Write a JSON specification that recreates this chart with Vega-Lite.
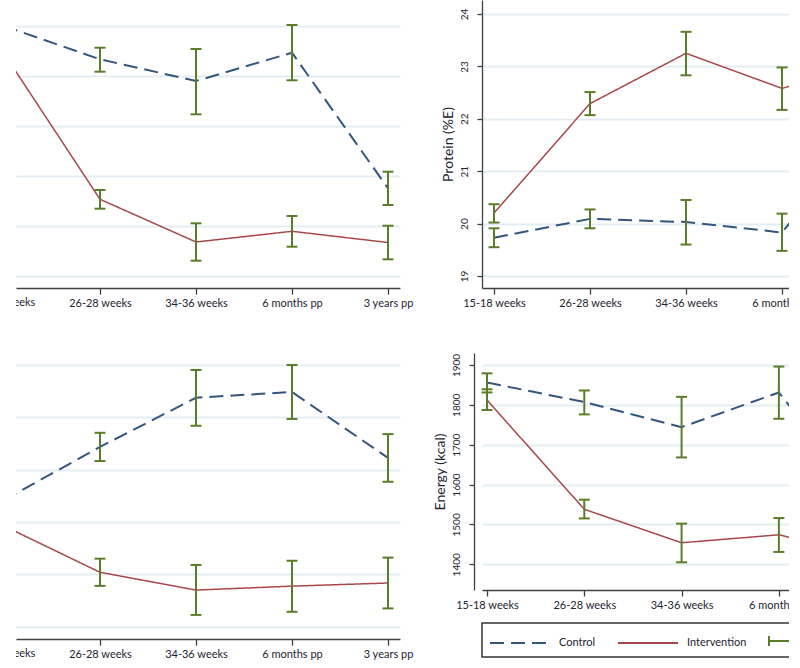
{
  "$schema": "https://vega.github.io/schema/vega-lite/v6.json",
  "autosize": {"type": "none"},
  "padding": {"left": 16, "top": 0, "right": 773, "bottom": 668},
  "background": "white",
  "bounds": "flush",
  "columns": 2,
  "spacing": {"row": 41, "column": 82},
  "datasets": {
    "tl": [
      {"idx": 1, "group": "Control", "mean": 50.0, "lo": 49.0, "hi": 51.0},
      {"idx": 2, "group": "Control", "mean": 46.67, "lo": 45.43, "hi": 47.83},
      {"idx": 3, "group": "Control", "mean": 44.5, "lo": 41.17, "hi": 47.7},
      {"idx": 4, "group": "Control", "mean": 47.33, "lo": 44.57, "hi": 50.1},
      {"idx": 5, "group": "Control", "mean": 33.77, "lo": 32.1, "hi": 35.43},
      {"idx": 1, "group": "Intervention", "mean": 47.25, "lo": 46.2, "hi": 48.3},
      {"idx": 2, "group": "Intervention", "mean": 32.67, "lo": 31.73, "hi": 33.6},
      {"idx": 3, "group": "Intervention", "mean": 28.4, "lo": 26.53, "hi": 30.27},
      {"idx": 4, "group": "Intervention", "mean": 29.47, "lo": 27.93, "hi": 31.0},
      {"idx": 5, "group": "Intervention", "mean": 28.35, "lo": 26.67, "hi": 30.03}
    ],
    "tr": [
      {"idx": 1, "group": "Control", "mean": 19.73, "lo": 19.55, "hi": 19.91},
      {"idx": 2, "group": "Control", "mean": 20.09, "lo": 19.91, "hi": 20.27},
      {"idx": 3, "group": "Control", "mean": 20.03, "lo": 19.6, "hi": 20.45},
      {"idx": 4, "group": "Control", "mean": 19.83, "lo": 19.48, "hi": 20.19},
      {"idx": 5, "group": "Control", "mean": 22.1, "lo": 21.6, "hi": 22.6},
      {"idx": 1, "group": "Intervention", "mean": 20.2, "lo": 20.02, "hi": 20.37},
      {"idx": 2, "group": "Intervention", "mean": 22.29, "lo": 22.07, "hi": 22.51},
      {"idx": 3, "group": "Intervention", "mean": 23.25, "lo": 22.83, "hi": 23.66},
      {"idx": 4, "group": "Intervention", "mean": 22.58, "lo": 22.17, "hi": 22.98},
      {"idx": 5, "group": "Intervention", "mean": 23.1, "lo": 22.6, "hi": 23.6}
    ],
    "bl": [
      {"idx": 1, "group": "Control", "mean": 34.84, "lo": 34.0, "hi": 35.7},
      {"idx": 2, "group": "Control", "mean": 36.87, "lo": 36.33, "hi": 37.41},
      {"idx": 3, "group": "Control", "mean": 38.75, "lo": 37.68, "hi": 39.81},
      {"idx": 4, "group": "Control", "mean": 38.97, "lo": 37.94, "hi": 40.0},
      {"idx": 5, "group": "Control", "mean": 36.45, "lo": 35.54, "hi": 37.36},
      {"idx": 1, "group": "Intervention", "mean": 33.85, "lo": 33.3, "hi": 34.4},
      {"idx": 2, "group": "Intervention", "mean": 32.08, "lo": 31.56, "hi": 32.6},
      {"idx": 3, "group": "Intervention", "mean": 31.4, "lo": 30.45, "hi": 32.36},
      {"idx": 4, "group": "Intervention", "mean": 31.55, "lo": 30.57, "hi": 32.52},
      {"idx": 5, "group": "Intervention", "mean": 31.67, "lo": 30.7, "hi": 32.64}
    ],
    "br": [
      {"idx": 1, "group": "Control", "mean": 1856, "lo": 1831, "hi": 1879},
      {"idx": 2, "group": "Control", "mean": 1807, "lo": 1776, "hi": 1836},
      {"idx": 3, "group": "Control", "mean": 1744, "lo": 1668, "hi": 1820},
      {"idx": 4, "group": "Control", "mean": 1831, "lo": 1765, "hi": 1896},
      {"idx": 5, "group": "Control", "mean": 1521, "lo": 1480, "hi": 1560},
      {"idx": 1, "group": "Intervention", "mean": 1812, "lo": 1787, "hi": 1839},
      {"idx": 2, "group": "Intervention", "mean": 1538, "lo": 1515, "hi": 1562},
      {"idx": 3, "group": "Intervention", "mean": 1454, "lo": 1405, "hi": 1502},
      {"idx": 4, "group": "Intervention", "mean": 1474, "lo": 1431, "hi": 1516},
      {"idx": 5, "group": "Intervention", "mean": 1411, "lo": 1370, "hi": 1455}
    ],
    "lab": [{"idx": 1, "label": "15-18 weeks"}]
  },
  "concat": [
    {
      "width": 384, "height": 312,
      "data": {"name": "tl"},
      "layer": [
        {
          "mark": {"type": "line", "clip": true},
          "encoding": {
            "x": {"field": "idx", "type": "quantitative", "scale": {"domain": [1.125, 5.125], "nice": false, "zero": false},
                  "axis": {"values": [1, 2, 3, 4, 5], "labelExpr": "['','15-18 weeks','26-28 weeks','34-36 weeks','6 months pp','3 years pp'][datum.value]", "grid": false, "title": null, "labelFlush": false, "labelOverlap": false, "labelBound": false, "offset": -24}},
            "y": {"field": "mean", "type": "quantitative", "scale": {"domain": [21.4, 52.6], "nice": false, "zero": false},
                  "axis": {"values": [25, 30, 35, 40, 45, 50], "labels": false, "ticks": false, "domain": false, "title": null, "grid": true}},
            "color": {"field": "group", "type": "nominal",
                      "scale": {"domain": ["Control", "Intervention", "95% CI"], "range": ["#33567f", "#a8474b", "#5a7d2a"]},
                      "legend": {"title": null, "orient": "none", "legendX": 466, "legendY": 623, "direction": "horizontal", "strokeColor": "#333333", "padding": 7, "symbolSize": 400, "symbolType": "M-1,0H5", "symbolStrokeWidth": 2, "labelOffset": 48, "columnPadding": 18, "labelFontSize": 11, "labelFont": "Lato", "labelColor": "#1c2530",
                                 "encode": {"symbols": {"update": {"shape": {"signal": "datum.value === '95% CI' ? 'M-1,-0.5V0.5M-1,0H5M5,-0.5V0.5' : 'M-1,0H5'"}, "strokeDash": {"signal": "datum.value === 'Control' ? [14,7] : [1,0]"}, "fill": {"value": "transparent"}, "strokeWidth": {"value": 2}}},
                                            "legend": {"update": {"strokeWidth": {"value": 1.5}}}}}},
            "strokeDash": {"field": "group", "type": "nominal", "scale": {"domain": ["Control", "Intervention"], "range": [[14, 7], [1, 0]]}, "legend": null},
            "strokeWidth": {"field": "group", "type": "ordinal", "scale": {"domain": ["Control", "Intervention"], "range": [2, 1.5]}, "legend": null}
          }
        },
        {
          "mark": {"type": "rule", "clip": true, "strokeWidth": 2},
          "encoding": {
            "x": {"field": "idx", "type": "quantitative", "title": null},
            "y": {"field": "lo", "type": "quantitative", "title": null},
            "y2": {"field": "hi"},
            "color": {"datum": "95% CI", "type": "nominal"}
          }
        },
        {
          "mark": {"type": "tick", "orient": "horizontal", "clip": true, "size": 11, "thickness": 2, "opacity": 1},
          "encoding": {
            "x": {"field": "idx", "type": "quantitative", "title": null},
            "y": {"field": "lo", "type": "quantitative", "title": null},
            "color": {"datum": "95% CI", "type": "nominal"}
          }
        },
        {
          "mark": {"type": "tick", "orient": "horizontal", "clip": true, "size": 11, "thickness": 2, "opacity": 1},
          "encoding": {
            "x": {"field": "idx", "type": "quantitative", "title": null},
            "y": {"field": "hi", "type": "quantitative", "title": null},
            "color": {"datum": "95% CI", "type": "nominal"}
          }
        },
        {
          "data": {"name": "lab"},
          "mark": {"type": "text", "align": "center", "baseline": "top", "dy": -15, "fontSize": 11, "font": "Lato", "color": "#1c2530", "clip": true},
          "encoding": {
            "x": {"field": "idx", "type": "quantitative", "title": null},
            "y": {"value": "height"},
            "text": {"field": "label"}
          }
        }
      ]
    },
    {
      "width": 307, "height": 288,
      "data": {"name": "tr"},
      "layer": [
        {
          "mark": {"type": "line"},
          "encoding": {
            "x": {"field": "idx", "type": "quantitative", "scale": {"domain": [0.875, 4.073], "nice": false, "zero": false},
                  "axis": {"values": [1, 2, 3, 4, 5], "labelExpr": "['','15-18 weeks','26-28 weeks','34-36 weeks','6 months pp','3 years pp'][datum.value]", "grid": false, "title": null, "labelFlush": false, "labelOverlap": false, "labelBound": false}},
            "y": {"field": "mean", "type": "quantitative", "scale": {"domain": [18.771, 24.267], "nice": false, "zero": false},
                  "axis": {"values": [19, 20, 21, 22, 23, 24], "format": "d", "title": "Protein (%E)", "grid": true}},
            "color": {"field": "group", "type": "nominal"},
            "strokeDash": {"field": "group", "type": "nominal", "legend": null},
            "strokeWidth": {"field": "group", "type": "ordinal", "legend": null}
          }
        },
        {
          "mark": {"type": "rule", "strokeWidth": 2},
          "encoding": {
            "x": {"field": "idx", "type": "quantitative", "title": null},
            "y": {"field": "lo", "type": "quantitative", "title": "Protein (%E)"},
            "y2": {"field": "hi"},
            "color": {"datum": "95% CI", "type": "nominal"}
          }
        },
        {
          "mark": {"type": "tick", "orient": "horizontal", "size": 11, "thickness": 2, "opacity": 1},
          "encoding": {
            "x": {"field": "idx", "type": "quantitative", "title": null},
            "y": {"field": "lo", "type": "quantitative", "title": "Protein (%E)"},
            "color": {"datum": "95% CI", "type": "nominal"}
          }
        },
        {
          "mark": {"type": "tick", "orient": "horizontal", "size": 11, "thickness": 2, "opacity": 1},
          "encoding": {
            "x": {"field": "idx", "type": "quantitative", "title": null},
            "y": {"field": "hi", "type": "quantitative", "title": "Protein (%E)"},
            "color": {"datum": "95% CI", "type": "nominal"}
          }
        }
      ]
    },
    {
      "width": 384, "height": 310,
      "data": {"name": "bl"},
      "layer": [
        {
          "mark": {"type": "line", "clip": true},
          "encoding": {
            "x": {"field": "idx", "type": "quantitative", "scale": {"domain": [1.125, 5.125], "nice": false, "zero": false},
                  "axis": {"values": [1, 2, 3, 4, 5], "labelExpr": "['','15-18 weeks','26-28 weeks','34-36 weeks','6 months pp','3 years pp'][datum.value]", "grid": false, "title": null, "labelFlush": false, "labelOverlap": false, "labelBound": false, "offset": -24}},
            "y": {"field": "mean", "type": "quantitative", "scale": {"domain": [28.613, 40.46], "nice": false, "zero": false},
                  "axis": {"values": [30, 32, 34, 36, 38, 40], "labels": false, "ticks": false, "domain": false, "title": null, "grid": true}},
            "color": {"field": "group", "type": "nominal"},
            "strokeDash": {"field": "group", "type": "nominal", "legend": null},
            "strokeWidth": {"field": "group", "type": "ordinal", "legend": null}
          }
        },
        {
          "mark": {"type": "rule", "clip": true, "strokeWidth": 2},
          "encoding": {
            "x": {"field": "idx", "type": "quantitative", "title": null},
            "y": {"field": "lo", "type": "quantitative", "title": null},
            "y2": {"field": "hi"},
            "color": {"datum": "95% CI", "type": "nominal"}
          }
        },
        {
          "mark": {"type": "tick", "orient": "horizontal", "clip": true, "size": 11, "thickness": 2, "opacity": 1},
          "encoding": {
            "x": {"field": "idx", "type": "quantitative", "title": null},
            "y": {"field": "lo", "type": "quantitative", "title": null},
            "color": {"datum": "95% CI", "type": "nominal"}
          }
        },
        {
          "mark": {"type": "tick", "orient": "horizontal", "clip": true, "size": 11, "thickness": 2, "opacity": 1},
          "encoding": {
            "x": {"field": "idx", "type": "quantitative", "title": null},
            "y": {"field": "hi", "type": "quantitative", "title": null},
            "color": {"datum": "95% CI", "type": "nominal"}
          }
        },
        {
          "data": {"name": "lab"},
          "mark": {"type": "text", "align": "center", "baseline": "top", "dy": -15, "fontSize": 11, "font": "Lato", "color": "#1c2530", "clip": true},
          "encoding": {
            "x": {"field": "idx", "type": "quantitative", "title": null},
            "y": {"value": "height"},
            "text": {"field": "label"}
          }
        }
      ]
    },
    {
      "width": 307, "height": 237,
      "data": {"name": "br"},
      "layer": [
        {
          "mark": {"type": "line"},
          "encoding": {
            "x": {"field": "idx", "type": "quantitative", "scale": {"domain": [0.9486, 4.104], "nice": false, "zero": false},
                  "axis": {"values": [1, 2, 3, 4, 5], "labelExpr": "['','15-18 weeks','26-28 weeks','34-36 weeks','6 months pp','3 years pp'][datum.value]", "grid": false, "title": null, "labelFlush": false, "labelOverlap": false, "labelBound": false}},
            "y": {"field": "mean", "type": "quantitative", "scale": {"domain": [1335.5, 1930], "nice": false, "zero": false},
                  "axis": {"values": [1400, 1500, 1600, 1700, 1800, 1900], "format": "d", "title": "Energy (kcal)", "grid": true, "offset": 8}},
            "color": {"field": "group", "type": "nominal"},
            "strokeDash": {"field": "group", "type": "nominal", "legend": null},
            "strokeWidth": {"field": "group", "type": "ordinal", "legend": null}
          }
        },
        {
          "mark": {"type": "rule", "strokeWidth": 2},
          "encoding": {
            "x": {"field": "idx", "type": "quantitative", "title": null},
            "y": {"field": "lo", "type": "quantitative", "title": "Energy (kcal)"},
            "y2": {"field": "hi"},
            "color": {"datum": "95% CI", "type": "nominal"}
          }
        },
        {
          "mark": {"type": "tick", "orient": "horizontal", "size": 11, "thickness": 2, "opacity": 1},
          "encoding": {
            "x": {"field": "idx", "type": "quantitative", "title": null},
            "y": {"field": "lo", "type": "quantitative", "title": "Energy (kcal)"},
            "color": {"datum": "95% CI", "type": "nominal"}
          }
        },
        {
          "mark": {"type": "tick", "orient": "horizontal", "size": 11, "thickness": 2, "opacity": 1},
          "encoding": {
            "x": {"field": "idx", "type": "quantitative", "title": null},
            "y": {"field": "hi", "type": "quantitative", "title": "Energy (kcal)"},
            "color": {"datum": "95% CI", "type": "nominal"}
          }
        }
      ]
    }
  ],
  "resolve": {"scale": {"color": "shared", "strokeDash": "shared", "strokeWidth": "shared"}},
  "config": {
    "view": {"stroke": null},
    "font": "Lato",
    "axis": {"domainColor": "#404040", "domainWidth": 1.3, "tickColor": "#404040", "tickWidth": 1.3, "tickSize": 6, "labelFont": "Lato", "labelFontSize": 11, "labelColor": "#1c2530", "labelPadding": 3, "titleFont": "Lato", "titleFontSize": 14, "titleFontWeight": "normal", "titleColor": "#1c2530", "gridColor": "#e4edf1", "gridWidth": 2},
    "axisY": {"labelAngle": -90, "labelAlign": "center", "labelBaseline": "bottom", "labelPadding": 8, "labelFontSize": 10, "titlePadding": 4, "tickSize": 5}
  }
}
